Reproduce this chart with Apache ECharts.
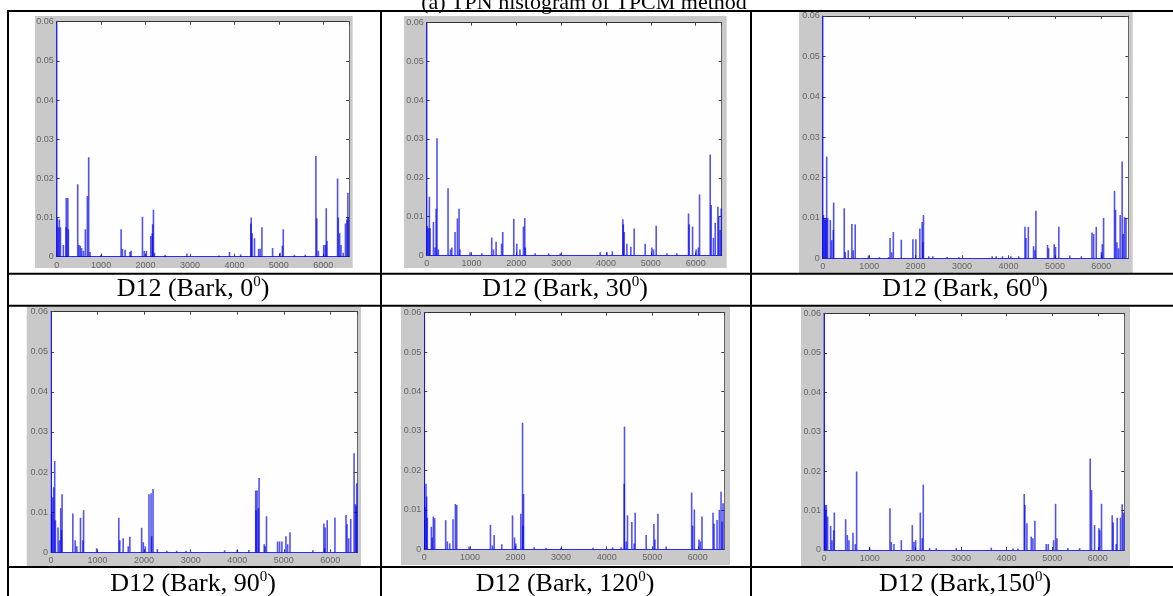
<!DOCTYPE html>
<html><head><meta charset="utf-8">
<script src="https://cdn.jsdelivr.net/npm/echarts@6/dist/echarts.min.js"></script>
<style>html,body{margin:0;padding:0;background:#fff}#c{width:1173px;height:596px}</style>
</head><body><div id="c"></div><script>
// ---- data ----
const figureTitle = '(a) TPN histogram of TPCM method';
const captionTexts = ['D12 (Bark, 0', 'D12 (Bark, 30', 'D12 (Bark, 60', 'D12 (Bark, 90', 'D12 (Bark, 120', 'D12 (Bark,150'];
const captionSup = '0';
const xMin = 0, xMax = 6580, xStep = 1000;
const yMin = 0, yMax = 0.06, yStep = 0.01;

const bark0 = [[0,0.06],[15,0.0098],[40,0.0075],[60,0.0095],[85,0.0075],[150,0.003],[210,0.0075],[215,0.015],[250,0.015],[262,0.007],[473,0.0185],[500,0.003],[530,0.0028],[560,0.0022],[600,0.0015],[645,0.007],[690,0.0155],[720,0.0254],[750,0.0012],[1000,0.0005],[1450,0.007],[1480,0.002],[1540,0.0018],[1650,0.0012],[1675,0.0015],[1930,0.0102],[1970,0.0015],[2020,0.0015],[2118,0.0053],[2150,0.006],[2160,0.0083],[2178,0.012],[2200,0.001],[2440,0.0005],[2930,0.0008],[3650,0.0003],[3890,0.0012],[4140,0.0006],[4370,0.0085],[4378,0.01],[4400,0.006],[4453,0.0047],[4545,0.002],[4580,0.002],[4620,0.0075],[4860,0.0022],[5030,0.001],[5080,0.0028],[5100,0.007],[5350,0.0005],[5595,0.0005],[5835,0.0257],[5855,0.0098],[5890,0.0015],[6010,0.003],[6045,0.003],[6068,0.0124],[6085,0.004],[6323,0.02],[6340,0.01],[6370,0.006],[6400,0.003],[6450,0.001],[6500,0.0085],[6530,0.0095],[6555,0.0163],[6565,0.01]];
const bark30 = [[0,0.06],[15,0.0075],[40,0.007],[60,0.0151],[75,0.007],[150,0.0086],[185,0.002],[210,0.012],[230,0.0302],[260,0.0015],[476,0.0173],[530,0.0015],[560,0.002],[632,0.006],[685,0.0095],[722,0.012],[740,0.0015],[967,0.0008],[1230,0.0005],[1450,0.0046],[1490,0.0015],[1548,0.0035],[1670,0.003],[1696,0.006],[1942,0.0094],[2009,0.003],[2080,0.0015],[2158,0.0074],[2187,0.0096],[2200,0.002],[2420,0.0005],[2720,0.0005],[2980,0.0005],[3870,0.0008],[4020,0.0008],[4140,0.001],[4375,0.0093],[4385,0.008],[4405,0.006],[4465,0.003],[4553,0.0022],[4628,0.0069],[4873,0.003],[5022,0.002],[5060,0.0015],[5119,0.0076],[5360,0.0005],[5580,0.0005],[5840,0.0108],[5855,0.008],[5930,0.0074],[6010,0.0015],[6060,0.002],[6086,0.0157],[6324,0.026],[6345,0.013],[6395,0.0045],[6436,0.0084],[6495,0.0125],[6515,0.01],[6545,0.0065],[6570,0.0121]];
const bark60 = [[0,0.06],[15,0.0107],[35,0.01],[55,0.0095],[70,0.01],[86,0.0252],[107,0.01],[164,0.0095],[193,0.0045],[228,0.007],[236,0.0138],[464,0.0124],[485,0.0015],[550,0.002],[628,0.0085],[657,0.002],[700,0.0084],[985,0.0007],[1220,0.0003],[1420,0.0003],[1450,0.005],[1485,0.0015],[1521,0.0065],[1692,0.0046],[1942,0.0047],[2006,0.0047],[2092,0.0074],[2142,0.009],[2157,0.004],[2170,0.0107],[2285,0.0005],[2370,0.0005],[2680,0.0003],[2930,0.0003],[3650,0.0005],[3735,0.0005],[3870,0.0005],[4050,0.0005],[4220,0.0005],[4355,0.0078],[4377,0.005],[4427,0.0078],[4540,0.003],[4570,0.002],[4591,0.0118],[4841,0.0033],[4863,0.0025],[4985,0.0035],[5013,0.0028],[5084,0.0078],[5320,0.0007],[5570,0.0005],[5798,0.0064],[5834,0.006],[5890,0.0078],[6000,0.0015],[6020,0.0035],[6048,0.01],[6283,0.0167],[6305,0.012],[6335,0.004],[6370,0.0025],[6405,0.0107],[6448,0.024],[6470,0.006],[6498,0.0102],[6530,0.01]];
const bark90 = [[0,0.06],[15,0.0096],[36,0.0137],[58,0.0162],[79,0.0228],[95,0.008],[151,0.0062],[180,0.003],[209,0.011],[223,0.0055],[238,0.0145],[469,0.0097],[520,0.003],[555,0.0015],[634,0.0086],[685,0.003],[700,0.0105],[980,0.001],[1456,0.0086],[1478,0.003],[1550,0.0035],[1660,0.0015],[1694,0.0039],[1947,0.0061],[1983,0.0025],[2026,0.0015],[2105,0.0145],[2149,0.0147],[2163,0.004],[2192,0.0158],[2285,0.0008],[2490,0.0004],[2700,0.0004],[2900,0.0004],[3730,0.0005],[4000,0.0006],[4250,0.0006],[4398,0.0154],[4405,0.0105],[4427,0.0154],[4455,0.011],[4470,0.0185],[4580,0.002],[4600,0.0015],[4629,0.009],[4867,0.0027],[4910,0.0027],[4960,0.0027],[5047,0.004],[5083,0.002],[5134,0.005],[5625,0.0005],[5862,0.0072],[5877,0.001],[5890,0.0062],[5934,0.008],[6100,0.0087],[6338,0.0093],[6360,0.007],[6395,0.0035],[6439,0.0083],[6511,0.0247],[6540,0.012],[6555,0.0115],[6568,0.0172]];
const bark120 = [[0,0.06],[15,0.0108],[37,0.0166],[51,0.0134],[66,0.008],[154,0.0057],[176,0.003],[198,0.0083],[227,0.0079],[469,0.0074],[506,0.002],[557,0.0015],[630,0.0076],[682,0.0115],[711,0.0112],[982,0.0007],[1451,0.0062],[1495,0.001],[1532,0.0036],[1700,0.0013],[1935,0.0086],[1979,0.003],[2008,0.0015],[2118,0.009],[2155,0.0321],[2162,0.006],[2177,0.014],[2410,0.0005],[2670,0.0004],[3000,0.0004],[3700,0.0004],[4130,0.0005],[4316,0.0005],[4384,0.0166],[4391,0.0311],[4427,0.002],[4457,0.0086],[4552,0.0069],[4603,0.0015],[4625,0.0093],[4867,0.0036],[5036,0.0064],[5058,0.0025],[5124,0.009],[5305,0.0007],[5864,0.0144],[5886,0.006],[5923,0.0101],[6025,0.0025],[6055,0.002],[6091,0.0083],[6333,0.0093],[6355,0.0065],[6421,0.0074],[6472,0.01],[6509,0.0146],[6531,0.007],[6553,0.0117]];
const bark150 = [[0,0.06],[22,0.0114],[40,0.01],[51,0.0114],[80,0.0085],[146,0.0061],[175,0.0025],[212,0.005],[226,0.0095],[474,0.0078],[511,0.0038],[547,0.0025],[635,0.0044],[686,0.0015],[715,0.0199],[1000,0.0005],[1445,0.0106],[1475,0.002],[1533,0.0015],[1694,0.0025],[1935,0.0063],[1971,0.002],[2008,0.0025],[2110,0.0095],[2153,0.003],[2175,0.0166],[2314,0.0005],[2460,0.0005],[2898,0.0005],[3665,0.0006],[4140,0.0004],[4250,0.0004],[4387,0.0142],[4402,0.0114],[4446,0.0068],[4541,0.0034],[4577,0.003],[4621,0.0074],[4869,0.0015],[4913,0.0015],[5030,0.0025],[5074,0.0117],[5103,0.003],[5344,0.0005],[5600,0.0005],[5833,0.0232],[5862,0.0152],[5928,0.0063],[6023,0.0055],[6045,0.005],[6081,0.0117],[6315,0.0088],[6337,0.007],[6403,0.0015],[6424,0.0082],[6497,0.0082],[6534,0.0116],[6563,0.0095]];
const panelData = [bark0, bark30, bark60, bark90, bark120, bark150];

// ---- layout (pixels) ----
const plotBoxes = [[56.7,21.7,292.3,235],[426.7,22.7,295,232.6],[822.7,16,305.6,242.3],[51,311.7,306.3,240.6],[424.3,312.7,300,236.6],[824,313.3,300.3,236.7]];
const grayBoxes = [[35,16,317.7,252],[404,16,322.7,252],[799,12,333.7,261],[26.7,306.7,334.3,259.3],[401,306.7,329,258.3],[801,307.3,329,258.7]];
const captionPos = [[193,289],[565,289],[965,289],[193,584],[565,584],[965,584]];
const hLines = [[7,11,1173,11],[7,273.7,1173,273.7],[7,305.7,1173,305.7],[7,567,1173,567]];
const vLines = [[8,11,8,596],[381,11,381,596],[751,11,751,596]];

const SERIF = '"Liberation Serif","Times New Roman",serif';
const SANS = '"Liberation Sans",Arial,sans-serif';

const grids = [], xAxes = [], yAxes = [], series = [], graphics = [];
grayBoxes.forEach(b => graphics.push({type:'rect', z:-5, shape:{x:b[0],y:b[1],width:b[2],height:b[3]}, style:{fill:'#c9c9c9'}, silent:true}));
hLines.concat(vLines).forEach(l => graphics.push({type:'line', z:10, shape:{x1:l[0],y1:l[1],x2:l[2],y2:l[3]}, style:{stroke:'#000',lineWidth:2}, silent:true}));
captionTexts.forEach((t,i) => graphics.push({type:'text', z:10, x:captionPos[i][0], y:captionPos[i][1],
  style:{text:'{m|'+t+'}{s|'+captionSup+'}{m|)}', align:'center', verticalAlign:'middle',
    rich:{m:{fontFamily:SERIF,fontSize:26,lineHeight:28,fill:'#000'}, s:{fontFamily:SERIF,fontSize:15,lineHeight:15,verticalAlign:'top',fill:'#000'}}}}));
graphics.push({type:'text', z:10, x:584, y:14, style:{text:figureTitle, font:'22px '+SERIF, fill:'#000', align:'center', verticalAlign:'bottom'}});

const yFmt = v => v === 0 ? '0' : v.toFixed(2);
const xFmt = v => String(v);
panelData.forEach((d,i) => {
  const p = plotBoxes[i];
  grids.push({left:p[0], top:p[1], width:p[2], height:p[3], show:true, backgroundColor:'#fefefe', borderWidth:0});
  const tick = {show:true, inside:true, length:3, lineStyle:{color:'#444', width:1}};
  const xBase = {gridIndex:i, type:'value', min:xMin, max:xMax, interval:xStep, splitLine:{show:false}};
  xAxes.push(Object.assign({}, xBase, {position:'bottom', axisLine:{show:true,onZero:false,lineStyle:{color:'#2a2aff',width:1}}, axisTick:tick,
    axisLabel:{fontSize:9, color:'#666', margin:4, fontFamily:SANS, showMaxLabel:false, formatter:xFmt}}));
  const yBase = {gridIndex:i, type:'value', min:yMin, max:yMax, interval:yStep, splitLine:{show:false}};
  yAxes.push(Object.assign({}, yBase, {position:'left', axisLine:{show:true,onZero:false,lineStyle:{color:'#3a3aff',width:1}}, axisTick:tick,
    axisLabel:{fontSize:9, color:'#666', margin:3, fontFamily:SANS, formatter:yFmt}}));
  series.push({type:'bar', xAxisIndex:i, yAxisIndex:i, data:d, barWidth:1.6, silent:true,
    itemStyle:{color:'rgba(0,0,235,0.68)'}});
});
panelData.forEach((d,i) => {
  const tick = {show:true, inside:true, length:3, lineStyle:{color:'#444', width:1}};
  xAxes.push({gridIndex:i, type:'value', min:xMin, max:xMax, interval:xStep, position:'top', splitLine:{show:false},
    axisLine:{show:true,onZero:false,lineStyle:{color:'#333',width:1}}, axisTick:tick, axisLabel:{show:false}});
  yAxes.push({gridIndex:i, type:'value', min:yMin, max:yMax, interval:yStep, position:'right', splitLine:{show:false},
    axisLine:{show:true,onZero:false,lineStyle:{color:'#666',width:1}}, axisTick:tick, axisLabel:{show:false}});
});

const chart = echarts.init(document.getElementById('c'), null, {renderer:'canvas'});
chart.setOption({animation:false, backgroundColor:'#fff', grid:grids, xAxis:xAxes, yAxis:yAxes, series:series, graphic:graphics});
</script></body></html>
